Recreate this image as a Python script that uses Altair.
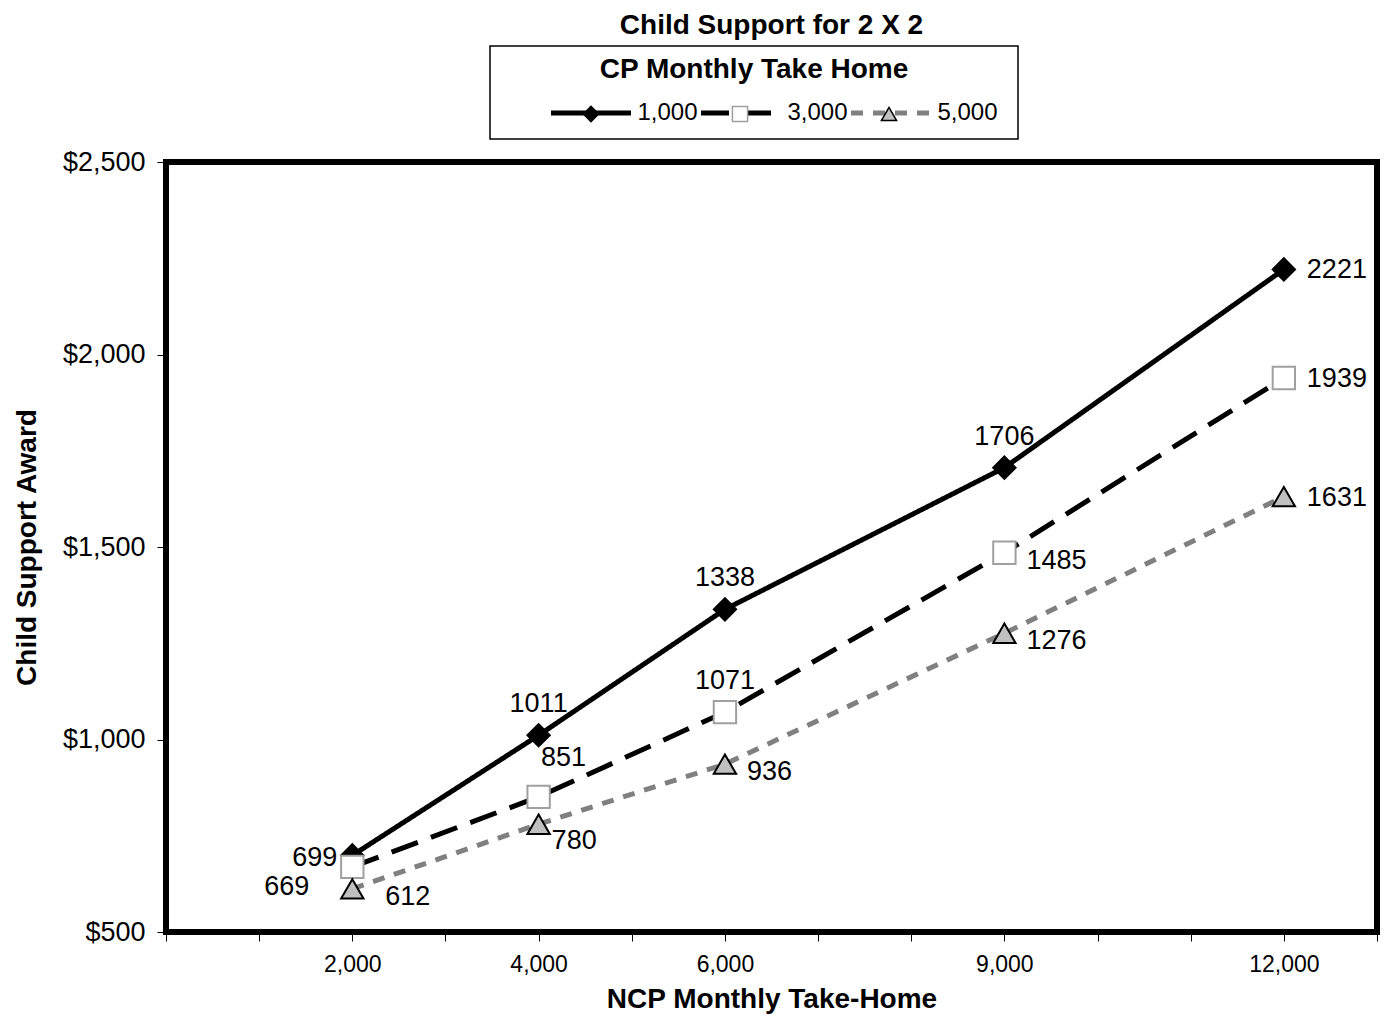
import altair as alt
import pandas as pd

# ---- data ----
ncp_take_home = [2000, 4000, 6000, 9000, 12000]
series_names = ["1,000", "3,000", "5,000"]
award_1000 = [699, 1011, 1338, 1706, 2221]
award_3000 = [669, 851, 1071, 1485, 1939]
award_5000 = [612, 780, 936, 1276, 1631]
# where each value label sits relative to its point
place_1000 = ["left", "above", "above", "above", "right"]
place_3000 = ["below-left", "above-right", "above", "below-right", "right"]
place_5000 = ["below-right-far", "below-right-near", "below-right", "below-right", "right"]
y_ticks = [500, 1000, 1500, 2000, 2500]

rows = []
for name, vals, places in zip(series_names, [award_1000, award_3000, award_5000],
                              [place_1000, place_3000, place_5000]):
    for x, v, p in zip(ncp_take_home, vals, places):
        rows.append({"series": name, "series_pt": name, "x": x, "y": v, "place": p})
df = pd.DataFrame(rows)

FONT = "Liberation Sans"

x_enc = alt.X(
    "x:Q",
    scale=alt.Scale(domain=[0, 13000], nice=False, zero=False),
    axis=alt.Axis(
        values=list(range(0, 13001, 1000)),
        labelExpr="indexof(" + str(ncp_take_home) + ", datum.value) >= 0 ? format(datum.value, ',') : ''",
        title="NCP Monthly Take-Home",
        labelFontSize=23,
        titleFontSize=28,
        titleFontWeight="bold",
        tickSize=9,
        labelPadding=12,
        titlePadding=9,
        labelOverlap=False,
        labelFlush=False,
    ),
)
y_enc = alt.Y(
    "y:Q",
    scale=alt.Scale(domain=[500, 2500], nice=False, zero=False),
    axis=alt.Axis(
        values=y_ticks,
        format="$,.0f",
        title="Child Support Award",
        labelFontSize=27,
        titleFontSize=28,
        titleFontWeight="bold",
        tickSize=9,
        labelPadding=12,
        titlePadding=21,
    ),
)

common_leg = dict(
    orient="none", direction="horizontal",
    labelColor="black", columnPadding=0, clipHeight=30, padding=10,
)
# line swatches with their visible labels (no frame, no title)
legA = alt.Legend(legendX=372.5, legendY=-74, title=None,
                  symbolType="stroke", symbolSize=6400, symbolStrokeWidth=5,
                  symbolOffset=0, labelOffset=4, labelFontSize=24, zindex=0,
                  **common_leg)
# marker swatches, framed box and visible title (labels hidden; the last one widens the frame)
legB = alt.Legend(legendX=324, legendY=-116,
                  title="CP Monthly Take Home", titleFontSize=28, titleFontWeight="bold",
                  titleAnchor="middle", titlePadding=15, titleColor="black", titleLimit=700,
                  symbolSize=230, symbolStrokeWidth=1.5, symbolOffset=82,
                  labelOffset=49, labelFontSize=18, labelOpacity=0, strokeColor="black", zindex=1,
                  labelExpr="datum.value == '5,000' ? '000000' : ' '",
                  **common_leg)

lines = alt.Chart(df).mark_line(strokeWidth=5, strokeCap="butt").encode(
    x=x_enc,
    y=y_enc,
    color=alt.Color("series:N", scale=alt.Scale(domain=series_names,
                                                range=["#000000", "#000000", "#808080"]), legend=legA),
    strokeDash=alt.StrokeDash("series:N", scale=alt.Scale(domain=series_names,
                                                          range=[[1, 0], [28, 14], [12, 10]]), legend=legA),
)

# marker scales take their order from the data field (kept separate from the line legend)
points = alt.Chart(df).mark_point(filled=True, opacity=1, size=500, strokeWidth=2).encode(
    x="x:Q",
    y="y:Q",
    shape=alt.Shape("series_pt:N", scale=alt.Scale(range=["diamond", "square", "triangle-up"]), legend=legB),
    fill=alt.Fill("series_pt:N", scale=alt.Scale(range=["#000000", "#ffffff", "#c0c0c0"]), legend=legB),
    stroke=alt.Stroke("series_pt:N", scale=alt.Scale(range=["#000000", "#a0a0a0", "#000000"]), legend=legB),
)

placements = {
    "left": dict(align="right", dx=-15, dy=3),
    "below-left": dict(align="right", dx=-43, dy=20),
    "above": dict(align="center", dx=0, dy=-31),
    "above-right": dict(align="center", dx=25, dy=-39),
    "right": dict(align="left", dx=23, dy=1),
    "below-right": dict(align="left", dx=22, dy=8),
    "below-right-far": dict(align="left", dx=33, dy=8),
    "below-right-near": dict(align="left", dx=13, dy=17),
}

text_layers = []
for key, opts in placements.items():
    text_layers.append(
        alt.Chart(df).transform_filter(alt.datum.place == key).mark_text(
            font=FONT, fontSize=27, color="black", baseline="middle", **opts
        ).encode(x="x:Q", y="y:Q", text=alt.Text("y:Q", format="d"))
    )

chart = alt.layer(lines, points, *text_layers).properties(
    width=1211,
    height=770,
    title=alt.TitleParams("Child Support for 2 X 2", fontSize=28, fontWeight="bold",
                          font=FONT, anchor="middle", offset=5, color="black"),
    autosize=alt.AutoSizeParams(type="none"),
    padding={"left": 158, "top": 154, "right": 4, "bottom": 84},
    background="white",
).configure_view(
    stroke="black", strokeWidth=6
).configure_axis(
    domain=False, grid=False, tickColor="black", labelColor="black", titleColor="black",
    labelFont=FONT, titleFont=FONT, tickWidth=1,
).configure_legend(
    labelFont=FONT, titleFont=FONT, strokeWidth=1.5,
)

chart.save("out.html", embed_options={"renderer": "svg", "actions": False})
